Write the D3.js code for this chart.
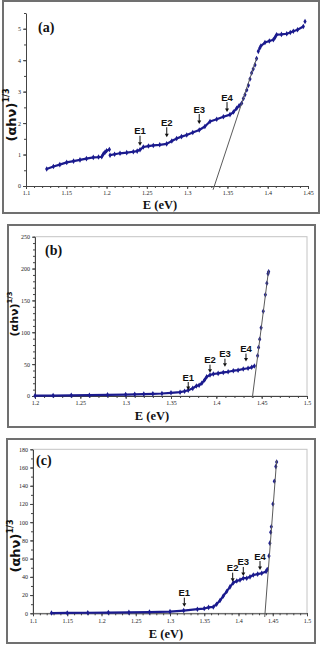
<!DOCTYPE html>
<html>
<head>
<meta charset="utf-8">
<script src="https://cdn.jsdelivr.net/npm/d3@7"></script>
<style>
  body { margin: 0; background: #fff; }
  svg { display: block; }
</style>
</head>
<body>
<script>
// ---- panel (a) data ----
const aLineE = [1.1257, 1.134, 1.142, 1.1505, 1.159, 1.167, 1.175, 1.1835, 1.19, 1.194, 1.196, 1.198, 1.2, 1.2035, null,
  1.2043, 1.21, 1.2167, 1.225, 1.2332, 1.238, 1.2415, 1.2456, 1.252, 1.258, 1.266, 1.2746, 1.281, 1.287, 1.293, 1.2995,
  1.307, 1.315, 1.322, 1.3284, 1.3367, 1.345, 1.3532, 1.3575, 1.3615, 1.3645, 1.3677, null,
  1.3915, 1.3966, 1.402, 1.407, 1.409, 1.411, 1.417, 1.4236, 1.428, 1.4318, 1.437, 1.4442];
const aLineV = [0.54, 0.62, 0.68, 0.75, 0.79, 0.83, 0.87, 0.91, 0.92, 0.93, 1.02, 1.07, 1.12, 1.16, null,
  0.98, 1.01, 1.04, 1.06, 1.09, 1.11, 1.15, 1.24, 1.27, 1.29, 1.31, 1.34, 1.43, 1.51, 1.57, 1.62,
  1.70, 1.78, 1.89, 2.05, 2.12, 2.20, 2.27, 2.35, 2.47, 2.55, 2.63, null,
  4.45, 4.56, 4.61, 4.65, 4.72, 4.81, 4.82, 4.84, 4.88, 4.92, 4.97, 5.07];
const aDotE = [1.3698, 1.3718, 1.374, 1.376, 1.378, 1.38, 1.382, 1.3842, 1.3862, 1.3883, 1.39, 1.4463];
const aDotV = [2.78, 2.9, 3.05, 3.2, 3.4, 3.59, 3.72, 3.85, 4.05, 4.28, 4.38, 5.23];
const aTangent = [[1.3322, -0.12], [1.3863, 4.07]];
const aMarkNames = ['E1', 'E2', 'E3', 'E4'];
const aMarkE = [1.2415, 1.2747, 1.315, 1.3495];
const aMarkV = [1.28, 1.55, 1.97, 2.35];
const aXTicks = [1.1, 1.15, 1.2, 1.25, 1.3, 1.35, 1.4, 1.45];
const aXLabels = ['1.1', '1.15', '1.2', '1.25', '1.3', '1.35', '1.4', '1.45'];
const aYTicks = [0, 1, 2, 3, 4, 5];
const aYLabels = ['0', '1', '2', '3', '4', '5'];

// ---- panel (b) data ----
const bLineE = [1.2, 1.22, 1.24, 1.26, 1.28, 1.30, 1.31, 1.32, 1.33, 1.34, 1.35, 1.36, 1.365, 1.369, 1.374, 1.378,
  1.381, 1.384, 1.387, 1.3893, 1.393, 1.3967, 1.402, 1.4077, 1.413, 1.4187, 1.424, 1.4297, 1.435, 1.439, 1.442];
const bLineV = [0.5, 0.7, 1.0, 1.3, 1.7, 2.2, 2.6, 3.0, 3.4, 3.9, 5.0, 6.0, 7.5, 9.0, 12, 15.7,
  17, 20, 25, 30, 33, 34.5, 35.5, 37, 38, 39.7, 40.5, 42.4, 43.5, 45, 47];
const bDotE = [1.4455, 1.4466, 1.4478, 1.4494, 1.4518, 1.4541, 1.4557, 1.4570, 1.4577];
const bDotV = [63, 76, 89, 107, 133, 159, 177, 192, 195];
const bTangent = [[1.4397, -3], [1.4576, 197]];
const bMarkNames = ['E1', 'E2', 'E3', 'E4'];
const bMarkE = [1.369, 1.393, 1.4095, 1.4327];
const bMarkV = [9.4, 36.6, 46, 54];
const bXTicks = [1.2, 1.25, 1.3, 1.35, 1.4, 1.45, 1.5];
const bXLabels = ['1.2', '1.25', '1.3', '1.35', '1.4', '1.45', '1.5'];
const bYTicks = [0, 50, 100, 150, 200, 250];
const bYLabels = ['0', '50', '100', '150', '200', '250'];

// ---- panel (c) data ----
const cLineE = [1.127, 1.15, 1.18, 1.21, 1.24, 1.27, 1.30, 1.32, 1.34, 1.35, 1.3563, 1.3632, 1.368, 1.373, 1.3778,
  1.3828, 1.3876, 1.3924, 1.3975, 1.4022, 1.407, 1.412, 1.4168, 1.4216, 1.428, 1.4339, 1.4402, 1.442];
const cLineV = [0.3, 0.4, 0.6, 0.8, 1.0, 1.3, 1.8, 3.0, 4.5, 5.2, 6.5, 7, 10, 14, 19,
  24, 29, 33.5, 35.5, 36.5, 38.5, 38.5, 40, 42, 43, 44, 46, 48];
const cDotE = [1.4445, 1.4458, 1.447, 1.4479, 1.4503, 1.4523, 1.4545, 1.4557];
const cDotV = [63, 77, 89, 95, 120, 145, 161, 166];
const cTangent = [[1.4383, -4], [1.4557, 168]];
const cMarkNames = ['E1', 'E2', 'E3', 'E4'];
const cMarkE = [1.3209, 1.3915, 1.407, 1.4314];
const cMarkV = [7.3, 34.7, 41, 47.5];
const cXTicks = [1.1, 1.15, 1.2, 1.25, 1.3, 1.35, 1.4, 1.45, 1.5];
const cXLabels = ['1.1', '1.15', '1.2', '1.25', '1.3', '1.35', '1.4', '1.45', '1.5'];
const cYTicks = [0, 20, 40, 60, 80, 100, 120, 140, 160, 180];
const cYLabels = ['0', '20', '40', '60', '80', '100', '120', '140', '160', '180'];

const navy = '#1b1b8e';
const axisColor = '#444';

const svg = d3.select('body').append('svg')
  .attr('width', 325)
  .attr('height', 645);

// layout of each panel (pixels) plus which arrays it uses
const panels = [
  {
    title: '(a)', frame: [3, 1, 316, 212], xr: [26, 308], yr: [186, 13],
    xd: [1.1, 1.45], yd: [0, 5.5], border: false, xMinorStep: 0.01, yMinorStep: 0.5,
    titlePos: [38, 32], titleSize: 14, yLabelPos: [11, 115], yLabelSize: 13, xLabelPos: [160, 209],
    arrowLen: 10, xPad: 2,
    lineE: aLineE, lineV: aLineV, dotE: aDotE, dotV: aDotV, tangent: aTangent,
    markNames: aMarkNames, markE: aMarkE, markV: aMarkV,
    xTicks: aXTicks, xLabels: aXLabels, yTicks: aYTicks, yLabels: aYLabels
  },
  {
    title: '(b)', frame: [8, 225, 307, 202], xr: [35, 307], yr: [396, 236.7],
    xd: [1.2, 1.5], yd: [0, 250], border: true, xMinorStep: 0.01, yMinorStep: 10,
    titlePos: [45, 255], titleSize: 14, yLabelPos: [14, 314], yLabelSize: 11, xLabelPos: [152, 420],
    arrowLen: 8, xPad: 2,
    lineE: bLineE, lineV: bLineV, dotE: bDotE, dotV: bDotV, tangent: bTangent,
    markNames: bMarkNames, markE: bMarkE, markV: bMarkV,
    xTicks: bXTicks, xLabels: bXLabels, yTicks: bYTicks, yLabels: bYLabels
  },
  {
    title: '(c)', frame: [7, 439, 308, 204], xr: [33, 307], yr: [613.3, 449.3],
    xd: [1.1, 1.5], yd: [0, 180], border: true, xMinorStep: 0.01, yMinorStep: 10,
    titlePos: [36, 465], titleSize: 14, yLabelPos: [15, 546], yLabelSize: 13, xLabelPos: [166, 638],
    arrowLen: 9, xPad: 2,
    lineE: cLineE, lineV: cLineV, dotE: cDotE, dotV: cDotV, tangent: cTangent,
    markNames: cMarkNames, markE: cMarkE, markV: cMarkV,
    xTicks: cXTicks, xLabels: cXLabels, yTicks: cYTicks, yLabels: cYLabels
  }
];

function styleAxis(sel) {
  sel.attr('font-family', '"Liberation Serif", serif').attr('font-size', 6);
  sel.select('.domain').attr('stroke', axisColor);
  sel.selectAll('.tick line').attr('stroke', axisColor);
  sel.selectAll('.tick text').attr('fill', '#222');
}

function drawPanel(p) {
  const g = svg.append('g');

  // outer frame
  g.append('rect')
    .attr('x', p.frame[0]).attr('y', p.frame[1])
    .attr('width', p.frame[2]).attr('height', p.frame[3])
    .attr('fill', 'none').attr('stroke', '#707070').attr('stroke-width', 2);

  const x = d3.scaleLinear().domain(p.xd).range(p.xr);
  const y = d3.scaleLinear().domain(p.yd).range(p.yr);

  if (p.border) {
    g.append('rect')
      .attr('x', p.xr[0]).attr('y', p.yr[1])
      .attr('width', p.xr[1] - p.xr[0]).attr('height', p.yr[0] - p.yr[1])
      .attr('fill', 'none').attr('stroke', '#c4c4c4').attr('stroke-width', 1);
  }

  // minor ticks
  const xMinor = d3.range(p.xd[0], p.xd[1] + 1e-9, p.xMinorStep);
  const yMinor = d3.range(p.yd[0], p.yd[1] + 1e-9, p.yMinorStep);
  g.append('g')
    .attr('transform', `translate(0,${p.yr[0]})`)
    .call(d3.axisBottom(x).tickValues(xMinor).tickSize(2).tickFormat(''))
    .call(s => { s.select('.domain').remove(); s.selectAll('line').attr('stroke', axisColor); });
  g.append('g')
    .attr('transform', `translate(${p.xr[0]},0)`)
    .call(d3.axisLeft(y).tickValues(yMinor).tickSize(2).tickFormat(''))
    .call(s => { s.select('.domain').remove(); s.selectAll('line').attr('stroke', axisColor); });

  // major axes
  g.append('g')
    .attr('transform', `translate(0,${p.yr[0]})`)
    .call(d3.axisBottom(x).tickValues(p.xTicks).tickFormat((d, i) => p.xLabels[i])
      .tickSizeInner(3).tickSizeOuter(0).tickPadding(p.xPad))
    .call(styleAxis);
  g.append('g')
    .attr('transform', `translate(${p.xr[0]},0)`)
    .call(d3.axisLeft(y).tickValues(p.yTicks).tickFormat((d, i) => p.yLabels[i])
      .tickSizeInner(3).tickSizeOuter(0).tickPadding(2))
    .call(styleAxis);

  // data: connected part
  const pts = p.lineE.map((e, i) => [e, p.lineV[i]]);
  const line = d3.line()
    .defined(d => d[0] != null && d[1] != null)
    .x(d => x(d[0]))
    .y(d => y(d[1]));
  g.append('path')
    .datum(pts)
    .attr('d', line)
    .attr('fill', 'none')
    .attr('stroke', navy)
    .attr('stroke-width', 2.2)
    .attr('stroke-linejoin', 'round');

  // markers
  const marks = pts.filter(d => d[0] != null)
    .concat(p.dotE.map((e, i) => [e, p.dotV[i]]));
  const diamond = d3.symbol().type(d3.symbolDiamond).size(9);
  g.selectAll('.mk')
    .data(marks)
    .enter().append('path')
    .attr('class', 'mk')
    .attr('d', diamond)
    .attr('transform', d => `translate(${x(d[0])},${y(d[1])})`)
    .attr('fill', navy);

  // tangent line
  g.append('line')
    .attr('x1', x(p.tangent[0][0])).attr('y1', y(p.tangent[0][1]))
    .attr('x2', x(p.tangent[1][0])).attr('y2', y(p.tangent[1][1]))
    .attr('stroke', '#5a5a5a').attr('stroke-width', 1);

  // arrows with E labels
  p.markNames.forEach((name, i) => {
    const ax = x(p.markE[i]);
    const tip = y(p.markV[i]);
    const tail = tip - p.arrowLen;
    g.append('line')
      .attr('x1', ax).attr('y1', tail).attr('x2', ax).attr('y2', tip - 3)
      .attr('stroke', '#111').attr('stroke-width', 1);
    g.append('path')
      .attr('d', `M${ax - 2},${tip - 3.5}L${ax + 2},${tip - 3.5}L${ax},${tip}Z`)
      .attr('fill', '#111');
    g.append('text')
      .attr('x', ax).attr('y', tail - 1.5)
      .attr('text-anchor', 'middle')
      .attr('font-family', '"Liberation Sans", Arial, sans-serif')
      .attr('font-weight', 'bold')
      .attr('font-size', 9.5)
      .attr('fill', '#111')
      .text(name);
  });

  // panel letter
  g.append('text')
    .attr('x', p.titlePos[0]).attr('y', p.titlePos[1])
    .attr('font-family', '"Liberation Serif", serif')
    .attr('font-weight', 'bold')
    .attr('font-size', p.titleSize)
    .attr('fill', '#111')
    .text(p.title);

  // axis titles
  g.append('text')
    .attr('x', p.xLabelPos[0]).attr('y', p.xLabelPos[1])
    .attr('text-anchor', 'middle')
    .attr('font-family', '"Liberation Serif", serif')
    .attr('font-weight', 'bold')
    .attr('font-size', 12.5)
    .attr('fill', '#111')
    .text('E (eV)');

  const yt = g.append('text')
    .attr('transform', `translate(${p.yLabelPos[0]},${p.yLabelPos[1]}) rotate(-90)`)
    .attr('text-anchor', 'middle')
    .attr('dominant-baseline', 'central')
    .attr('font-family', '"DejaVu Sans", Verdana, sans-serif')
    .attr('font-weight', 'bold')
    .attr('font-size', p.yLabelSize)
    .attr('fill', '#111');
  yt.append('tspan').text('(\u03b1h\u03bd)');
  yt.append('tspan')
    .attr('dy', -p.yLabelSize * 0.4)
    .attr('font-size', p.yLabelSize * 0.62)
    .text('1/3');
}

panels.forEach(drawPanel);
</script>
</body>
</html>
